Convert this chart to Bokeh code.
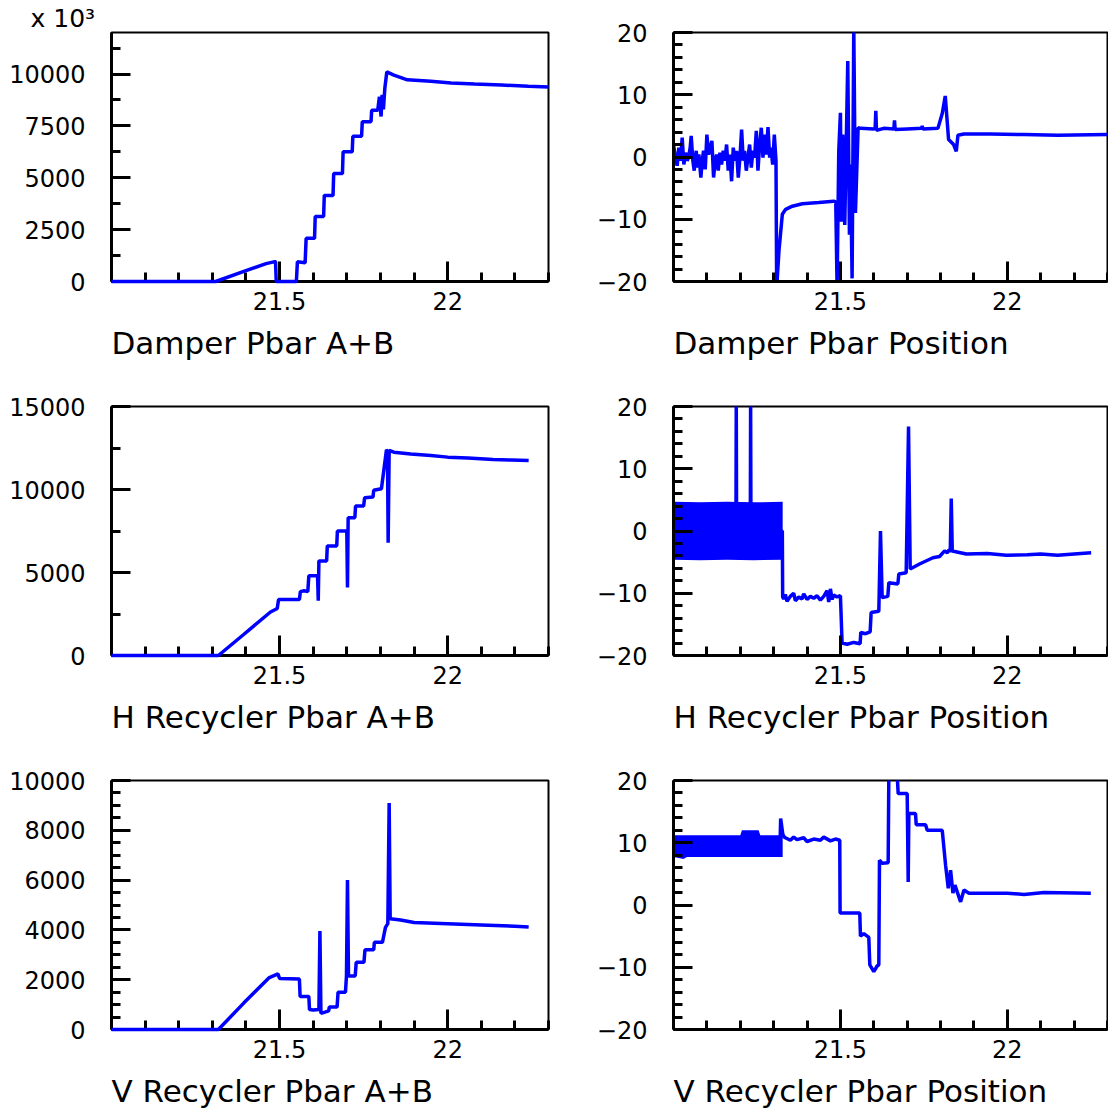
from bokeh.plotting import figure
from bokeh.layouts import column, row
from bokeh.models import Range1d, FixedTicker, Title, NumeralTickFormatter
from bokeh.embed import file_html
from bokeh.resources import INLINE

BLUE = "#0000ff"
FONT = "DejaVu Sans"

# ---------------- data (time axis in hours) ----------------
# Damper Pbar A+B
t_dab = [21.00, 21.31, 21.40, 21.46, 21.486, 21.488, 21.490, 21.550, 21.553, 21.576,
         21.579, 21.604, 21.606, 21.631, 21.633, 21.659, 21.661, 21.687, 21.689, 21.716,
         21.718, 21.744, 21.746, 21.772, 21.774, 21.792, 21.797, 21.802, 21.805, 21.809,
         21.813, 21.819, 21.84, 21.88, 21.95, 22.01, 22.08, 22.16, 22.24, 22.30]
v_dab = [0, 0, 520, 860, 960, 950, 0, 0, 950, 900,
         2080, 2080, 3130, 3130, 4150, 4150, 5200, 5200, 6250, 6250,
         7000, 7000, 7700, 7700, 8250, 8250, 8900, 7950, 9000, 8300,
         9300, 10100, 9950, 9720, 9650, 9570, 9520, 9470, 9410, 9370]

# Damper Pbar Position
t_dpos = [21.000, 21.006, 21.011, 21.016, 21.021, 21.026, 21.031, 21.036, 21.041, 21.045,
          21.050, 21.053, 21.058, 21.062, 21.068, 21.072, 21.076, 21.082, 21.086, 21.090,
          21.095, 21.100, 21.105, 21.110, 21.115, 21.120, 21.125, 21.129, 21.134, 21.139,
          21.144, 21.149, 21.154, 21.159, 21.164, 21.169, 21.174, 21.179, 21.184, 21.189,
          21.194, 21.199, 21.204, 21.209, 21.213, 21.218, 21.223, 21.228, 21.233, 21.238,
          21.243, 21.248, 21.253, 21.258, 21.263, 21.268, 21.273, 21.278, 21.283, 21.288,
          21.292, 21.297, 21.302, 21.307, 21.309, 21.316, 21.326, 21.336, 21.356, 21.386,
          21.435, 21.480, 21.486, 21.490, 21.495, 21.500, 21.503, 21.507, 21.513, 21.522,
          21.527, 21.530, 21.535, 21.540, 21.545, 21.553, 21.560, 21.600, 21.604, 21.606,
          21.608, 21.630, 21.660, 21.662, 21.664, 21.700, 21.743, 21.745, 21.747, 21.792,
          21.805, 21.814, 21.824, 21.839, 21.847, 21.852, 21.870, 21.950, 22.050, 22.150,
          22.300]
v_dpos = [2.0, -0.1, -1.4, 1.5, -0.6, 3.1, -1.2, 0.7, -0.6, -0.1,
          1.5, 3.4, -0.6, -2.2, 1.0, -1.7, 0.4, -3.3, -0.6, 1.0,
          -2.0, 3.6, 0.4, 1.5, 2.6, -3.3, -0.6, 0.4, -2.2, 0.7,
          -1.2, 1.0, -0.6, 2.0, -2.2, 0.4, -3.9, 1.5, -0.6, 1.0,
          -3.3, -0.1, 4.4, -0.6, 1.0, -2.2, -0.1, 2.0, -1.7, 1.0,
          -0.1, 4.2, -2.2, 2.0, 4.7, -0.1, 3.6, 0.4, 4.8, -0.1,
          1.5, -1.2, 3.6, -0.6, -21.0, -15.0, -9.2, -8.4, -7.9, -7.5,
          -7.3, -7.1, -7.2, -21.0, 0.9, 7.1, -10.4, 3.6, -10.9, 15.4,
          -12.5, -1.2, -19.5, 21.0, -9.0, 4.7, 4.6, 4.5, 4.6, 7.4,
          4.3, 4.6, 4.5, 5.9, 4.4, 4.5, 4.6, 5.0, 4.5, 4.6,
          7.0, 9.8, 2.8, 2.0, 0.9, 3.5, 3.7, 3.7, 3.6, 3.5,
          3.6]

# H Recycler Pbar A+B
t_hab = [21.000, 21.318, 21.394, 21.473, 21.493, 21.497, 21.559, 21.562, 21.573, 21.584,
         21.587, 21.613, 21.615, 21.617, 21.640, 21.642, 21.670, 21.672, 21.700, 21.702,
         21.704, 21.724, 21.726, 21.750, 21.753, 21.778, 21.780, 21.803, 21.818, 21.821,
         21.823, 21.826, 21.840, 21.890, 21.950, 22.000, 22.060, 22.135, 22.190, 22.241]
v_hab = [0, 0, 1280, 2620, 2830, 3370, 3370, 3850, 3900, 3850,
         4800, 4800, 3300, 5700, 5700, 6600, 6600, 7500, 7500, 4100,
         8300, 8300, 9000, 9000, 9500, 9550, 9950, 10050, 12400, 12300,
         6800, 12350, 12250, 12140, 12050, 11950, 11900, 11800, 11780, 11740]

# H Recycler Pbar Position (dense oscillation band + trace)
t_hband = [21.000, 21.080, 21.160, 21.240, 21.327]
hi_hband = [4.7, 4.6, 4.7, 4.6, 4.7]
lo_hband = [-4.6, -4.7, -4.6, -4.7, -4.6]
t_hpos = [21.000, 21.187, 21.188, 21.189, 21.230, 21.231, 21.232, 21.326, 21.327, 21.330,
          21.335, 21.340, 21.350, 21.360, 21.365, 21.375, 21.385, 21.390, 21.400, 21.410,
          21.420, 21.430, 21.440, 21.450, 21.460, 21.465, 21.470, 21.475, 21.480, 21.490,
          21.500, 21.505, 21.520, 21.540, 21.559, 21.561, 21.575, 21.589, 21.592, 21.615,
          21.620, 21.625, 21.642, 21.645, 21.672, 21.675, 21.697, 21.704, 21.709, 21.737,
          21.777, 21.797, 21.812, 21.820, 21.826, 21.829, 21.832, 21.835, 21.877, 21.940,
          21.997, 22.060, 22.100, 22.150, 22.200, 22.251]
v_hpos = [0, 0, 21, 0, 0, 21, 0, 0, -10.6, -10.9,
          -10.2, -11.3, -10.5, -10.0, -11.2, -10.6, -10.9, -10.1, -11.0, -10.5,
          -10.8, -10.4, -11.1, -10.5, -9.6, -11.4, -9.3, -11.0, -10.3, -10.6,
          -10.4, -18.0, -18.2, -17.9, -18.1, -16.3, -16.5, -16.2, -13.1, -12.9,
          0.0, -10.7, -10.5, -8.3, -8.5, -6.9, -6.7, 16.8, -6.1, -5.3,
          -4.3, -4.1, -3.2, -3.5, -3.0, -3.4, 5.2, -3.2, -3.7, -3.6,
          -3.9, -3.8, -3.7, -3.9, -3.7, -3.5]

# V Recycler Pbar A+B
t_vab = [21.000, 21.318, 21.394, 21.468, 21.490, 21.495, 21.500, 21.559, 21.561, 21.587,
         21.589, 21.600, 21.617, 21.620, 21.623, 21.635, 21.646, 21.648, 21.671, 21.674,
         21.696, 21.699, 21.702, 21.705, 21.725, 21.728, 21.751, 21.754, 21.780, 21.782,
         21.806, 21.815, 21.822, 21.826, 21.829, 21.860, 21.900, 22.000, 22.100, 22.200,
         22.241]
v_vab = [0, 0, 1070, 2070, 2200, 2230, 2050, 2030, 1330, 1330,
         800, 780, 800, 3950, 650, 700, 750, 900, 900, 1500,
         1500, 2150, 6000, 2150, 2150, 2700, 2700, 3200, 3200, 3500,
         3500, 4100, 4250, 9100, 4450, 4400, 4300, 4250, 4200, 4150,
         4120]

# V Recycler Pbar Position (dense oscillation band + trace)
t_vband = [21.000, 21.030, 21.040, 21.200, 21.205, 21.255, 21.260, 21.327]
hi_vband = [11.2, 11.2, 11.2, 11.2, 12.0, 12.0, 11.2, 11.2]
lo_vband = [7.7, 7.4, 7.7, 7.7, 7.7, 7.7, 7.7, 7.7]
t_vpos = [21.000, 21.319, 21.321, 21.327, 21.330, 21.335, 21.350, 21.360, 21.370, 21.390,
          21.400, 21.420, 21.440, 21.450, 21.470, 21.485, 21.498, 21.499, 21.558, 21.560,
          21.570, 21.585, 21.588, 21.600, 21.610, 21.615, 21.617, 21.625, 21.643, 21.645,
          21.670, 21.673, 21.700, 21.703, 21.705, 21.725, 21.727, 21.755, 21.760, 21.805,
          21.815, 21.823, 21.830, 21.837, 21.843, 21.860, 21.870, 21.885, 22.000, 22.050,
          22.110, 22.250]
v_vpos = [9.5, 9.5, 13.9, 11.5, 11.0, 10.8, 10.4, 10.9, 10.5, 10.8,
          10.2, 10.6, 10.4, 10.9, 10.3, 10.6, 10.4, -1.3, -1.3, -5.0,
          -4.6, -5.2, -9.6, -10.7, -9.8, -9.6, 7.2, 6.7, 6.8, 21.0,
          21.0, 17.9, 17.9, 3.7, 14.7, 14.7, 12.9, 12.9, 12.0, 12.0,
          6.4, 2.7, 5.6, 1.9, 3.2, 0.5, 2.4, 1.9, 1.9, 1.7,
          2.0, 1.9]

# axis specifications
X_START, X_END = 21.0, 22.30
X_MAJOR = [21.5, 22.0]
X_MINOR = [21.1, 21.2, 21.3, 21.4, 21.6, 21.7, 21.8, 21.9, 22.1, 22.2, 22.3]
POS_MAJOR = [-20, -10, 0, 10, 20]
POS_MINOR = [-18, -16, -14, -12, -8, -6, -4, -2, 2, 4, 6, 8, 12, 14, 16, 18]


def make_panel(title, ylo, yhi, ymajor, yminor, left_col, top_border, bottom_border):
    p = figure(frame_width=437 if left_col else 434, frame_height=249,
               min_border_left=111 if left_col else 105,
               min_border_right=20 if left_col else 1,
               min_border_top=top_border, min_border_bottom=bottom_border,
               x_range=Range1d(X_START, X_END), y_range=Range1d(ylo, yhi),
               output_backend="svg", toolbar_location=None, tools="")
    p.xgrid.visible = False
    p.ygrid.visible = False
    p.outline_line_color = "black"
    p.outline_line_width = 2
    p.background_fill_color = "white"
    p.border_fill_color = "white"

    xa = p.xaxis[0]
    xa.ticker = FixedTicker(ticks=X_MAJOR, minor_ticks=X_MINOR)
    xa.formatter = NumeralTickFormatter(format="0.[0]")
    ya = p.yaxis[0]
    ya.ticker = FixedTicker(ticks=ymajor, minor_ticks=yminor)
    for ax, tin in ((xa, 20), (ya, 19)):
        ax.axis_line_width = 3
        ax.axis_line_color = "black"
        ax.major_tick_in = tin
        ax.major_tick_out = 0
        ax.minor_tick_in = 9
        ax.minor_tick_out = 0
        ax.major_tick_line_width = 3
        ax.minor_tick_line_width = 3
        ax.major_tick_line_color = "black"
        ax.minor_tick_line_color = "black"
        ax.major_label_text_font = FONT
        ax.major_label_text_font_size = "24px"
        ax.major_label_text_color = "black"
    xa.major_label_standoff = 10
    ya.major_label_standoff = 26
    if ylo < 0:
        ya.major_label_overrides = {-20: "\u221220", -10: "\u221210"}

    p.add_layout(Title(text=title, align="left", offset=0, standoff=21,
                       text_font=FONT, text_font_size="31px", text_font_style="normal",
                       text_color="black"), "below")
    return p


def trace(p, t, v, level="glyph"):
    p.line(t, v, line_color=BLUE, line_width=3.5, level=level)


ab1_major = [0, 2500, 5000, 7500, 10000]
ab1_minor = [1250, 3750, 6250, 8750, 11250]
ab2_major = [0, 5000, 10000, 15000]
ab2_minor = [2500, 7500, 12500]
ab3_major = [0, 2000, 4000, 6000, 8000, 10000]
ab3_minor = [v for v in range(500, 10000, 500) if v % 2000 != 0]

# A+B traces stay inside their ranges, so they are drawn above the axes
p1 = make_panel("Damper Pbar A+B", 0, 12000, ab1_major, ab1_minor, True, 32, 101)
trace(p1, t_dab, v_dab, "overlay")
p1.add_layout(Title(text="x 10\u00b3", align="left", offset=-81, standoff=0,
                    text_font=FONT, text_font_size="25px", text_font_style="normal",
                    text_color="black"), "above")

p2 = make_panel("Damper Pbar Position", -20, 20, POS_MAJOR, POS_MINOR, False, 32, 101)
trace(p2, t_dpos, v_dpos)

p3 = make_panel("H Recycler Pbar A+B", 0, 15000, ab2_major, ab2_minor, True, 24, 101)
trace(p3, t_hab, v_hab, "overlay")

p4 = make_panel("H Recycler Pbar Position", -20, 20, POS_MAJOR, POS_MINOR, False, 24, 101)
p4.varea(x=t_hband, y1=lo_hband, y2=hi_hband, fill_color=BLUE)
trace(p4, t_hpos, v_hpos)

p5 = make_panel("V Recycler Pbar A+B", 0, 10000, ab3_major, ab3_minor, True, 24, 85)
trace(p5, t_vab, v_vab, "overlay")

p6 = make_panel("V Recycler Pbar Position", -20, 20, POS_MAJOR, POS_MINOR, False, 24, 85)
p6.varea(x=t_vband, y1=lo_vband, y2=hi_vband, fill_color=BLUE)
trace(p6, t_vpos, v_vpos)

layout = column(row(p1, p2), row(p3, p4), row(p5, p6))

with open("out.html", "w") as f:
    f.write(file_html(layout, INLINE))
